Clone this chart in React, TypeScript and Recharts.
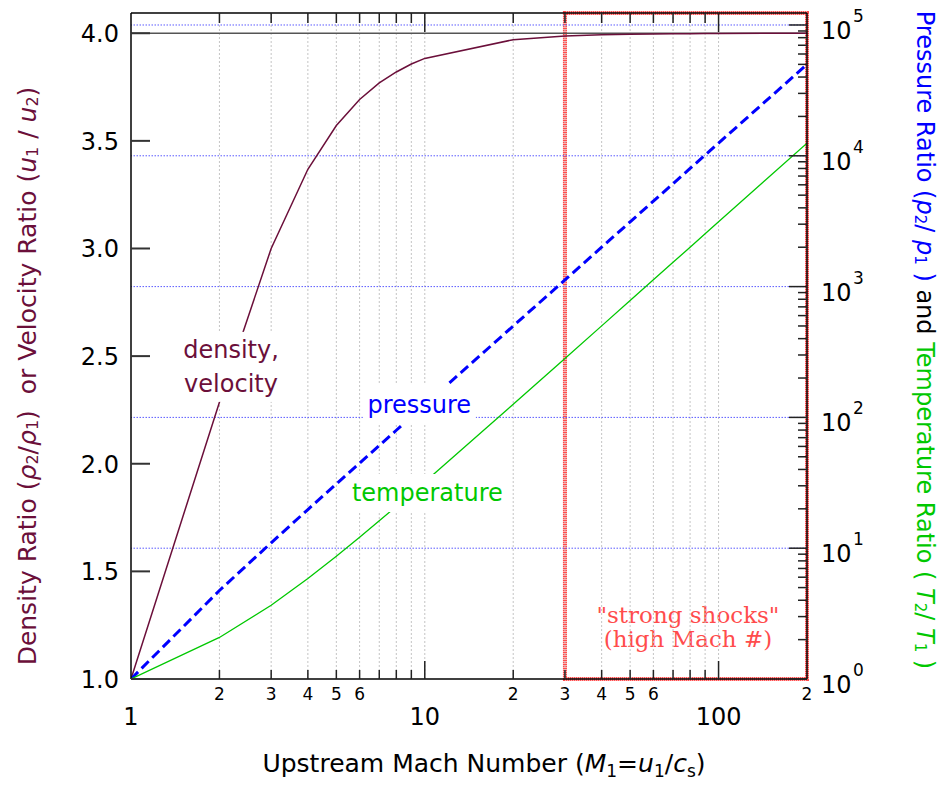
import React from 'react';
import { ComposedChart, Line, Scatter, XAxis, YAxis, ReferenceLine, ReferenceArea } from 'recharts';

// ---- data ----
const machNumbers = [1, 2, 3, 4, 5, 6, 7, 8, 9, 10, 20, 30, 40, 50, 60, 70, 80, 90, 100, 200];
const densityRatio = [1.0, 2.286, 3.0, 3.368, 3.571, 3.692, 3.769, 3.82, 3.857, 3.883, 3.97, 3.987, 3.993, 3.995, 3.997, 3.998, 3.998, 3.999, 3.999, 4.0];
const pressureRatio = [1, 4.75, 11, 19.75, 31, 44.75, 61, 79.75, 101, 124.75, 499.75, 1124.75, 1999.75, 3124.75, 4499.75, 6124.75, 7999.75, 10124.75, 12499.75, 49999.75];
const temperatureRatio = [1, 2.078, 3.667, 5.863, 8.68, 12.12, 16.18, 20.87, 26.19, 32.12, 125.9, 282.1, 500.9, 782.1, 1125.9, 1532.1, 2000.9, 2532.1, 3125.9, 12500.9];

const xTicks = [1, 2, 3, 4, 5, 6, 7, 8, 9, 10, 20, 30, 40, 50, 60, 70, 80, 90, 100, 200];
const xMajorTicks = [1, 10, 100];
const xMinorLabels: Record<number, string> = { 2: '2', 3: '3', 4: '4', 5: '5', 6: '6', 20: '2', 30: '3', 40: '4', 50: '5', 60: '6', 200: '2' };
const xGridLines = [2, 3, 4, 5, 6, 7, 8, 9, 10, 20, 30, 40, 50, 60, 70, 80, 90, 100];

const leftTicks = [1.0, 1.5, 2.0, 2.5, 3.0, 3.5, 4.0];
const leftDomain = [1, 4.094];
const rightTicks = [
  1, 2, 3, 4, 5, 6, 7, 8, 9,
  10, 20, 30, 40, 50, 60, 70, 80, 90,
  100, 200, 300, 400, 500, 600, 700, 800, 900,
  1000, 2000, 3000, 4000, 5000, 6000, 7000, 8000, 9000,
  10000, 20000, 30000, 40000, 50000, 60000, 70000, 80000, 90000,
  100000,
];
const rightMajorTicks = [1, 10, 100, 1000, 10000, 100000];
const rightDomain = [1, 123500];
const rightGridLines = [10, 100, 1000, 10000, 100000];

// curve labels (position in data units: Mach number, left-axis value)
const curveLabelIds = ['density', 'pressure', 'temperature'];
const curveLabelMach = [2.19, 9.58, 10.2];
const curveLabelValue = [2.45, 2.273, 1.864];

const data = machNumbers.map((m, i) => ({
  mach: m,
  density: densityRatio[i],
  pressure: pressureRatio[i],
  temperature: temperatureRatio[i],
}));
const labelData = curveLabelIds.map((id, i) => ({ id, mach: curveLabelMach[i], v: curveLabelValue[i] }));

const FONT = 'DejaVu Sans';
const MAROON = '#6b0f3a';
const BLUE = '#0000ff';
const GREEN = '#00c800';
const RED = '#ff4c4c';

const labelStyles: Record<string, { lines: string[]; color: string; w: number; h: number }> = {
  density: { lines: ['density,', 'velocity'], color: MAROON, w: 102, h: 70 },
  pressure: { lines: ['pressure'], color: BLUE, w: 113, h: 40 },
  temperature: { lines: ['temperature'], color: GREEN, w: 159, h: 38 },
};

const BottomTick = (props: any) => {
  const { x, y, payload } = props;
  const v = payload.value;
  const major = xMajorTicks.includes(v);
  const label = xMinorLabels[v];
  return (
    <g>
      {v !== 1 && v !== 200 && (
        <line x1={x} x2={x} y1={y} y2={y - (major ? 18 : 9)} stroke="#222" strokeWidth={1.5} />
      )}
      {major && (
        <text x={x} y={y + 46} textAnchor="middle" fontSize={24} fontFamily={FONT} fill="#000">
          {String(v)}
        </text>
      )}
      {label && (
        <text x={x} y={y + 21} textAnchor="middle" fontSize={17} fontFamily={FONT} fill="#000">
          {label}
        </text>
      )}
    </g>
  );
};

const TopTick = (props: any) => {
  const { x, y, payload } = props;
  const v = payload.value;
  const major = xMajorTicks.includes(v);
  if (v === 1 || v === 200) return <g />;
  return <line x1={x} x2={x} y1={y} y2={y + (major ? 19 : 10)} stroke="#222" strokeWidth={1.5} />;
};

const LeftTick = (props: any) => {
  const { x, y, payload } = props;
  const v = payload.value;
  return (
    <g>
      <line x1={x} x2={x + 19} y1={y} y2={y} stroke="#333" strokeWidth={2} />
      <text x={x - 12} y={y + 9} textAnchor="end" fontSize={24} fontFamily={FONT} fill="#000">
        {v.toFixed(1)}
      </text>
    </g>
  );
};

const RightTick = (props: any) => {
  const { x, y, payload } = props;
  const v = payload.value;
  const major = rightMajorTicks.includes(v);
  const exp = rightMajorTicks.indexOf(v);
  return (
    <g>
      <line x1={x} x2={x - (major ? 18 : 9)} y1={y} y2={y} stroke="#222" strokeWidth={1.5} />
      {major && (
        <text x={x + 14} y={y + 14} fontSize={24} fontFamily={FONT} fill="#000">10</text>
      )}
      {major && (
        <text x={x + 46} y={y - 3} fontSize={17} fontFamily={FONT} fill="#000">{String(exp)}</text>
      )}
    </g>
  );
};

const LeftTitle = (props: any) => {
  const vb = props.viewBox || { x: 31, y: 13, width: 100, height: 666 };
  const cx = vb.x - 4;
  const cy = vb.y + 363;
  return (
    <text
      transform={`rotate(-90 ${cx} ${cy})`}
      x={cx}
      y={cy}
      textAnchor="middle"
      dominantBaseline="central"
      fontSize={25}
      fontFamily={FONT}
      fill={MAROON}
      style={{ whiteSpace: 'pre' }}
    >
      <tspan>Density Ratio (</tspan>
      <tspan fontStyle="italic">ρ</tspan>
      <tspan fontSize={16} dy={5}>2</tspan>
      <tspan dy={-5}>/</tspan>
      <tspan fontStyle="italic">ρ</tspan>
      <tspan fontSize={16} dy={5}>1</tspan>
      <tspan dy={-5}>{')  or Velocity Ratio ('}</tspan>
      <tspan fontStyle="italic">u</tspan>
      <tspan fontSize={16} dy={5}>1</tspan>
      <tspan dy={-5}>{' / '}</tspan>
      <tspan fontStyle="italic">u</tspan>
      <tspan fontSize={16} dy={5}>2</tspan>
      <tspan dy={-5}>{')'}</tspan>
    </text>
  );
};

const RightTitle = (props: any) => {
  const vb = props.viewBox || { x: 807, y: 13, width: 101, height: 666 };
  const cx = vb.x + 118;
  const cy = vb.y + 327;
  return (
    <text
      transform={`rotate(90 ${cx} ${cy})`}
      x={cx}
      y={cy}
      textAnchor="middle"
      dominantBaseline="central"
      fontSize={24}
      fontFamily={FONT}
      style={{ whiteSpace: 'pre' }}
    >
      <tspan fill={BLUE}>Pressure Ratio (</tspan>
      <tspan fill={BLUE} fontStyle="italic">p</tspan>
      <tspan fill={BLUE} fontSize={15} dy={5}>2</tspan>
      <tspan fill={BLUE} dy={-5}>{'/ '}</tspan>
      <tspan fill={BLUE} fontStyle="italic">p</tspan>
      <tspan fill={BLUE} fontSize={15} dy={5}>1</tspan>
      <tspan fill={BLUE} dy={-5}>{' )'}</tspan>
      <tspan fill="#000">{' and '}</tspan>
      <tspan fill={GREEN}>{'Temperature Ratio ( '}</tspan>
      <tspan fill={GREEN} fontStyle="italic">T</tspan>
      <tspan fill={GREEN} fontSize={15} dy={5}>2</tspan>
      <tspan fill={GREEN} dy={-5}>{'/ '}</tspan>
      <tspan fill={GREEN} fontStyle="italic">T</tspan>
      <tspan fill={GREEN} fontSize={15} dy={5}>1</tspan>
      <tspan fill={GREEN} dy={-5}>{' )'}</tspan>
    </text>
  );
};

const BottomTitle = (props: any) => {
  const vb = props.viewBox || { x: 131, y: 679, width: 676, height: 60 };
  const cx = vb.x + 353;
  const cy = vb.y + 93;
  return (
    <text x={cx} y={cy} textAnchor="middle" fontSize={25} fontFamily={FONT} fill="#000" style={{ whiteSpace: 'pre' }}>
      <tspan>{'Upstream Mach Number ('}</tspan>
      <tspan fontStyle="italic">M</tspan>
      <tspan fontSize={17} dy={5}>1</tspan>
      <tspan dy={-5}>=</tspan>
      <tspan fontStyle="italic">u</tspan>
      <tspan fontSize={17} dy={5}>1</tspan>
      <tspan dy={-5}>/</tspan>
      <tspan fontStyle="italic">c</tspan>
      <tspan fontSize={17} dy={5}>s</tspan>
      <tspan dy={-5}>)</tspan>
    </text>
  );
};

const CurveLabelShape = (props: any) => {
  const { cx, cy, payload } = props;
  if (cx == null || cy == null || !payload) return <g />;
  const st = labelStyles[payload.id];
  if (!st) return <g />;
  const n = st.lines.length;
  return (
    <g>
      <rect x={cx - st.w / 2} y={cy - st.h / 2} width={st.w} height={st.h} fill="#ffffff" />
      {st.lines.map((t, i) => (
        <text
          key={i}
          x={cx}
          y={cy + (i - (n - 1) / 2) * 34}
          textAnchor="middle"
          dominantBaseline="central"
          fontSize={24}
          fontFamily={FONT}
          fill={st.color}
        >
          {t}
        </text>
      ))}
    </g>
  );
};

const StrongBox = (props: any) => {
  const vb = props.viewBox;
  if (!vb) return null;
  const cx = vb.x + vb.width / 2 + 2;
  const bottom = vb.y + vb.height;
  return (
    <g>
      <rect
        x={vb.x}
        y={vb.y}
        width={vb.width}
        height={vb.height}
        fill="none"
        stroke="#ffb0b0"
        strokeWidth={4}
      />
      <rect
        x={vb.x}
        y={vb.y}
        width={vb.width}
        height={vb.height}
        fill="none"
        stroke={RED}
        strokeWidth={4}
        strokeDasharray="1 1"
      />
      <text x={cx} y={bottom - 56} textAnchor="middle" fontSize={23} fontFamily="DejaVu Serif" fill={RED}>
        "strong shocks"
      </text>
      <text x={cx} y={bottom - 32} textAnchor="middle" fontSize={23} fontFamily="DejaVu Serif" fill={RED}>
        (high Mach #)
      </text>
    </g>
  );
};

export default function App() {
  return (
    <div style={{ position: 'absolute', left: 0, top: 0, width: 947, height: 788, background: '#fff' }}>
      <ComposedChart
        width={947}
        height={788}
        data={data}
        margin={{ top: 3, right: 39, bottom: 49, left: 31 }}
      >
        <XAxis
          xAxisId="bottom"
          dataKey="mach"
          type="number"
          scale="log"
          domain={[1, 200]}
          allowDataOverflow
          ticks={xTicks}
          interval={0}
          tickSize={0}
          tickMargin={0}
          tickLine={false}
          tick={<BottomTick />}
          axisLine={{ stroke: '#000', strokeWidth: 1.5 }}
          height={60}
          orientation="bottom"
          label={<BottomTitle />}
        />
        <XAxis
          xAxisId="top"
          dataKey="mach"
          type="number"
          scale="log"
          domain={[1, 200]}
          allowDataOverflow
          ticks={xTicks}
          interval={0}
          tickSize={0}
          tickMargin={0}
          tickLine={false}
          tick={<TopTick />}
          axisLine={{ stroke: '#000', strokeWidth: 1.5 }}
          height={10}
          orientation="top"
        />
        <YAxis
          yAxisId="left"
          type="number"
          domain={leftDomain}
          allowDataOverflow
          ticks={leftTicks}
          interval={0}
          tickSize={0}
          tickMargin={0}
          tickLine={false}
          tick={<LeftTick />}
          axisLine={{ stroke: '#000', strokeWidth: 1.5 }}
          width={100}
          orientation="left"
          label={<LeftTitle />}
        />
        <YAxis
          yAxisId="right"
          type="number"
          scale="log"
          domain={rightDomain}
          allowDataOverflow
          ticks={rightTicks}
          interval={0}
          tickSize={0}
          tickMargin={0}
          tickLine={false}
          tick={<RightTick />}
          axisLine={{ stroke: '#000', strokeWidth: 1.5 }}
          width={101}
          orientation="right"
          label={<RightTitle />}
        />

        {xGridLines.map((g) => (
          <ReferenceLine
            key={'vx' + g}
            xAxisId="bottom"
            yAxisId="left"
            x={g}
            stroke="#c4c4c4"
            strokeWidth={1}
            strokeDasharray="2 2"
          />
        ))}
        {rightGridLines.map((g) => (
          <ReferenceLine
            key={'hy' + g}
            xAxisId="bottom"
            yAxisId="right"
            y={g}
            stroke="#5a5aff"
            strokeWidth={1}
            strokeDasharray="1.5 1.5"
          />
        ))}
        <ReferenceLine xAxisId="bottom" yAxisId="left" y={4} stroke="#555" strokeWidth={1.5} />

        <Line
          xAxisId="bottom"
          yAxisId="left"
          dataKey="density"
          stroke={MAROON}
          strokeWidth={1.5}
          dot={false}
          isAnimationActive={false}
          type="linear"
        />
        <Line
          xAxisId="bottom"
          yAxisId="right"
          dataKey="pressure"
          stroke={BLUE}
          strokeWidth={3}
          strokeDasharray="10 5"
          dot={false}
          isAnimationActive={false}
          type="linear"
        />
        <Line
          xAxisId="bottom"
          yAxisId="right"
          dataKey="temperature"
          stroke={GREEN}
          strokeWidth={1.3}
          dot={false}
          isAnimationActive={false}
          type="linear"
        />

        <Scatter
          xAxisId="bottom"
          yAxisId="left"
          data={labelData}
          dataKey="v"
          shape={<CurveLabelShape />}
          isAnimationActive={false}
          legendType="none"
        />

        <ReferenceArea
          xAxisId="bottom"
          yAxisId="left"
          x1={30}
          x2={200}
          fill="none"
          fillOpacity={0}
          stroke="none"
          ifOverflow="visible"
          label={<StrongBox />}
        />
      </ComposedChart>
    </div>
  );
}
